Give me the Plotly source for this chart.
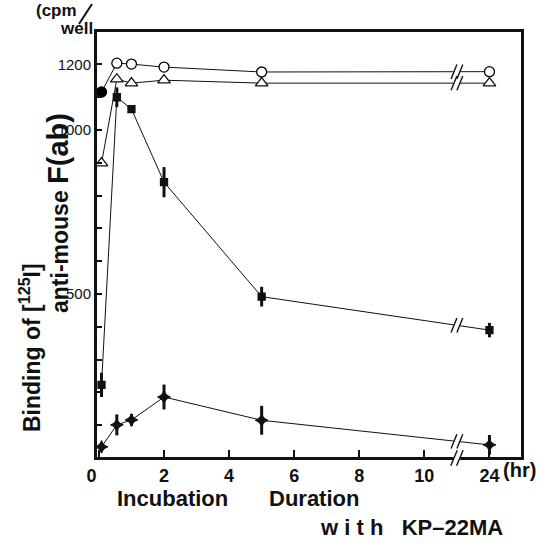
import numpy as np
import plotly.graph_objects as go

# ---------------- data ----------------
times = [0.08, 0.55, 1, 2, 5, 24]            # hr
tick_hours = [0, 2, 4, 6, 8, 10, 24]
tick_labels = ["0\u00a0\u00a0\u00a0", "2", "4", "6", "8", "10", "24"]

circle_vals = [1116, 1204, 1201, 1192, 1177, 1178]
triangle_vals = [899, 1155, 1143, 1152, 1143, 1143]
square_vals = [223, 1100, 1064, 841, 492, 390]
square_err = [37, 30, 0, 46, 30, 22]
star_vals = [34, 101, 116, 186, 115, 40]
star_err = [8, 32, 18, 38, 44, 30]

y_tick_vals = [500, 1000, 1200]
y_tick_text = ["500", "1000", "1200"]

# ---------------- broken time axis ----------------
BREAK_AT = 11.0


def xpos(t):
    t = np.asarray(t, dtype=float)
    return np.where(t <= BREAK_AT, t, BREAK_AT + (t - BREAK_AT) / 13.0)


xs = xpos(times)
FONT = "Liberation Sans"
BLACK = "#111111"

fig = go.Figure()


def add_series(vals, symbol, sizes, fill, err=None, lcolor=BLACK):
    tr = dict(
        x=xs, y=vals, mode="lines+markers",
        line=dict(color=BLACK, width=1),
        marker=dict(symbol=symbol, size=sizes, color=fill,
                    line=dict(color=lcolor, width=1.3)),
        showlegend=False, cliponaxis=False,
    )
    if err is not None:
        tr["error_y"] = dict(type="data", array=err, visible=True,
                             thickness=3, width=0, color=BLACK)
    fig.add_trace(go.Scatter(**tr))


add_series(square_vals, "square", 7, BLACK, square_err)
add_series(star_vals, "star-diamond", 9, BLACK, star_err)
add_series(triangle_vals, "triangle-up", 11, "white")
add_series(circle_vals, "circle", 10,
           ["#000000"] + ["white"] * (len(circle_vals) - 1),
           lcolor="#000000")

# ---------------- layout geometry ----------------
W, H = 539, 543
L, R, T, B = 96, 17, 31, 85
pw, ph = W - L - R, H - T - B


def px(x):
    return (x - L) / pw


def py(y):
    return (H - B - y) / ph


shapes = []
# frame
shapes.append(dict(type="rect", xref="paper", yref="paper",
                   x0=0, x1=1, y0=0, y1=1, layer="above",
                   line=dict(color=BLACK, width=2)))
# break marks on the series lines
for vals in [circle_vals, triangle_vals, square_vals, star_vals]:
    yb = float(np.interp(BREAK_AT, xs, vals))
    shapes.append(dict(type="rect", xref="x", yref="y",
                       x0=BREAK_AT - 0.1, x1=BREAK_AT + 0.1,
                       y0=yb - 5, y1=yb + 5,
                       fillcolor="white", line=dict(width=0)))
    for dx in (-0.09, 0.09):
        shapes.append(dict(type="line", xref="x", yref="y",
                           x0=BREAK_AT + dx - 0.09, x1=BREAK_AT + dx + 0.09,
                           y0=yb - 22, y1=yb + 22,
                           line=dict(color=BLACK, width=1.4)))
# break on the x axis
shapes.append(dict(type="rect", xref="x", yref="paper",
                   x0=BREAK_AT - 0.1, x1=BREAK_AT + 0.1, y0=-0.008, y1=0.008,
                   fillcolor="white", line=dict(width=0)))
for dx in (-0.09, 0.09):
    shapes.append(dict(type="line", xref="x", yref="paper",
                       x0=BREAK_AT + dx - 0.1, x1=BREAK_AT + dx + 0.1,
                       y0=-0.018, y1=0.018,
                       line=dict(color=BLACK, width=1.4)))
# slash of the "(cpm / well)" unit label
shapes.append(dict(type="line", xref="paper", yref="paper",
                   x0=px(79), y0=py(24), x1=px(92), y1=py(4),
                   line=dict(color=BLACK, width=2)))

ann = []


def text(s, x, y, size, angle=0, bold=True, xanchor="center"):
    ann.append(dict(text=s, x=px(x), y=py(y), xref="paper", yref="paper",
                    showarrow=False, textangle=angle, xanchor=xanchor,
                    yanchor="middle",
                    font=dict(family=FONT, size=size, color=BLACK,
                              weight="bold" if bold else "normal")))


text("Binding of [<sup>125</sup>I]", 30, 348, 23, angle=-90)
text("anti-mouse <span style='font-size:29px'>F(ab)</span>", 58, 213, 23,
     angle=-90)
text("(cpm", 56, 11, 17)
text("well", 76, 29, 17)
text("(hr)", 519, 470, 20)
text("Incubation", 172, 498, 22)
text("Duration", 314, 498, 22)
text("w\u00a0i\u00a0t\u00a0h\u00a0\u00a0\u00a0KP\u201322MA", 318, 527, 22,
     xanchor="left")

fig.update_layout(
    width=W, height=H,
    margin=dict(l=L, r=R, t=T, b=B, pad=0),
    paper_bgcolor="white", plot_bgcolor="white",
    shapes=shapes, annotations=ann,
    xaxis=dict(
        range=[-0.09, 13.0],
        tickvals=list(xpos(tick_hours)), ticktext=tick_labels,
        ticks="inside", ticklen=8, tickwidth=2, tickcolor=BLACK,
        showline=True, linecolor=BLACK, linewidth=2, mirror=True,
        showgrid=False, zeroline=False,
        tickfont=dict(family=FONT, size=18, color=BLACK, weight="bold"),
    ),
    yaxis=dict(
        range=[0, 1302],
        tickvals=y_tick_vals, ticktext=y_tick_text,
        ticks="inside", ticklen=6, tickwidth=2, tickcolor=BLACK,
        minor=dict(dtick=100, ticks="inside", ticklen=6, tickwidth=1.5,
                   tickcolor=BLACK),
        showline=True, linecolor=BLACK, linewidth=2, mirror=True,
        showgrid=False, zeroline=False,
        tickfont=dict(family=FONT, size=15, color=BLACK),
    ),
)

fig.write_html(
    "out.html",
    config={"displayModeBar": False},
    post_script="document.body.style.margin='0px';"
                "document.body.style.overflow='hidden';",
)
